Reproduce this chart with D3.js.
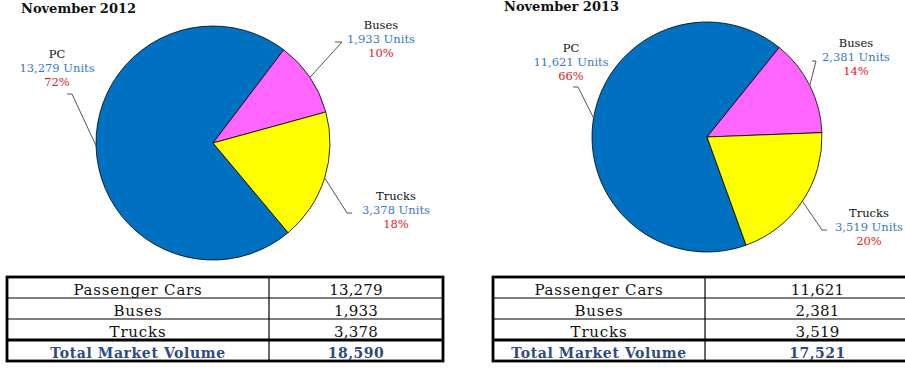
<!DOCTYPE html>
<html lang="en">
<head>
    <meta charset="UTF-8">
    <title>Vehicle Market Volume - November 2012 vs 2013</title>
    <script src="https://d3js.org/d3.v7.min.js"></script>
    <style>
        body {
            margin: 0;
            padding: 0;
            background-color: #fff;
            font-family: "DejaVu Serif", serif;
        }
        svg { display: block; }
    </style>
</head>
<body>
    <svg width="905" height="373"></svg>
    <script>
        // Chart data
        const titles = ["November 2012", "November 2013"];
        const categories = ["PC", "Buses", "Trucks"];
        const tableLabels = ["Passenger Cars", "Buses", "Trucks"];
        const totalLabel = "Total Market Volume";
        const units2012 = [13279, 1933, 3378];
        const units2013 = [11621, 2381, 3519];
        const pct2012 = ["72%", "10%", "18%"];
        const pct2013 = ["66%", "14%", "20%"];
        const unitSeries = [units2012, units2013];
        const pctSeries = [pct2012, pct2013];

        const colors = d3.scaleOrdinal()
            .domain(categories)
            .range(["#0070C0", "#FF66FF", "#FFFF00"]);

        const fmt = d3.format(",");
        const rad = deg => deg * Math.PI / 180;

        // Layout of the two panels (positions only)
        const panels = [
            {
                titleX: 21, titleY: 13,
                cx: 213, cy: 143, r: 117, busesStart: 37.2,
                labels: [
                    { x: 57, y: 58, tail: [67, 94], elbow: [72, 94] },
                    { x: 381, y: 29, tail: [335, 42], elbow: [342, 42] },
                    { x: 396, y: 200, tail: [352, 213], elbow: [347, 213] }
                ],
                table: { x0: 7, x1: 443, xDiv: 269 }
            },
            {
                titleX: 504, titleY: 11,
                cx: 707, cy: 137, r: 115, busesStart: 38.9,
                labels: [
                    { x: 571, y: 52, tail: [573, 87], elbow: [578, 87] },
                    { x: 856, y: 47, tail: [812, 61], elbow: [816, 61] },
                    { x: 869, y: 217, tail: [827, 230], elbow: [822, 230] }
                ],
                table: { x0: 493, x1: 930, xDiv: 705 }
            }
        ];

        const svg = d3.select("svg");
        const tableTop = 277, rowH = 21;

        panels.forEach((p, i) => {
            const values = unitSeries[i];
            const total = d3.sum(values);
            const pcAngle = values[0] / total * 360;

            // Title
            svg.append("text")
                .attr("x", p.titleX)
                .attr("y", p.titleY)
                .attr("font-size", 13)
                .attr("font-weight", "bold")
                .attr("fill", "#111")
                .text(titles[i]);

            // Pie
            const pie = d3.pie()
                .sort(null)
                .startAngle(rad(p.busesStart - pcAngle))
                .endAngle(rad(p.busesStart - pcAngle + 360));

            const arcs = pie(values);
            const arc = d3.arc().innerRadius(0).outerRadius(p.r);

            const g = svg.append("g")
                .attr("transform", `translate(${p.cx},${p.cy})`);

            g.selectAll("path")
                .data(arcs)
                .join("path")
                .attr("d", arc)
                .attr("fill", (d, j) => colors(categories[j]))
                .attr("stroke", "#000")
                .attr("stroke-width", 0.8);

            // Leader lines, from the label to the rim at the slice's middle angle
            arcs.forEach((a, j) => {
                const lab = p.labels[j];
                const mid = (a.startAngle + a.endAngle) / 2;
                const rim = d3.pointRadial(mid, p.r);
                svg.append("polyline")
                    .attr("points", [lab.tail, lab.elbow, [p.cx + rim[0], p.cy + rim[1]]]
                        .map(pt => pt.join(",")).join(" "))
                    .attr("fill", "none")
                    .attr("stroke", "#555")
                    .attr("stroke-width", 1);

                const t = svg.append("text")
                    .attr("text-anchor", "middle")
                    .attr("font-size", 11.5);
                t.append("tspan").attr("x", lab.x).attr("y", lab.y)
                    .attr("fill", "#111").text(categories[j]);
                t.append("tspan").attr("x", lab.x).attr("y", lab.y + 14)
                    .attr("fill", "#3A78C2").text(`${fmt(values[j])} Units`);
                t.append("tspan").attr("x", lab.x).attr("y", lab.y + 28)
                    .attr("fill", "#E32228").text(pctSeries[i][j]);
            });

            // Table
            const tb = p.table;
            const rows = tableLabels.map((l, j) => ({ label: l, value: fmt(values[j]), total: false }))
                .concat([{ label: totalLabel, value: fmt(total), total: true }]);
            const y = d3.scaleBand()
                .domain(d3.range(rows.length))
                .range([tableTop, tableTop + rowH * rows.length]);

            const tg = svg.append("g");

            // inner row lines
            [1, 2].forEach(k => {
                tg.append("line")
                    .attr("x1", tb.x0).attr("x2", tb.x1)
                    .attr("y1", y(k)).attr("y2", y(k))
                    .attr("stroke", "#000").attr("stroke-width", 1.2);
            });
            tg.append("line")
                .attr("x1", tb.x0).attr("x2", tb.x1)
                .attr("y1", y(3)).attr("y2", y(3))
                .attr("stroke", "#000").attr("stroke-width", 3);
            tg.append("line")
                .attr("x1", tb.xDiv).attr("x2", tb.xDiv)
                .attr("y1", tableTop).attr("y2", tableTop + rowH * rows.length)
                .attr("stroke", "#000").attr("stroke-width", 1.2);
            tg.append("rect")
                .attr("x", tb.x0).attr("y", tableTop)
                .attr("width", tb.x1 - tb.x0).attr("height", rowH * rows.length)
                .attr("fill", "none")
                .attr("stroke", "#000").attr("stroke-width", 2.8);

            rows.forEach((row, k) => {
                const base = y(k) + rowH - 3;
                const fill = row.total ? "#2E4B7F" : "#111";
                tg.append("text")
                    .attr("x", (tb.x0 + tb.xDiv) / 2).attr("y", base)
                    .attr("text-anchor", "middle")
                    .attr("font-size", row.total ? 14 : 15)
                    .attr("letter-spacing", row.total ? 0.6 : 0.8)
                    .attr("font-weight", row.total ? "bold" : "normal")
                    .attr("fill", fill)
                    .text(row.label);
                tg.append("text")
                    .attr("x", (tb.xDiv + tb.x1) / 2).attr("y", base)
                    .attr("text-anchor", "middle")
                    .attr("font-size", row.total ? 14 : 15)
                    .attr("letter-spacing", row.total ? 0.5 : 0.2)
                    .attr("font-weight", row.total ? "bold" : "normal")
                    .attr("fill", fill)
                    .text(row.value);
            });
        });
    </script>
</body>
</html>
